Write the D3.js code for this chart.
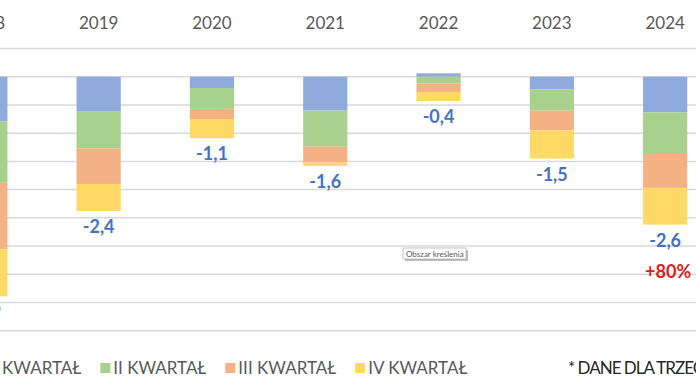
<!DOCTYPE html>
<html lang="pl">
<head>
  <meta charset="UTF-8">
  <title>Kwartały</title>
  <script src="https://d3js.org/d3.v7.min.js"></script>
  <style>
    body { margin: 0; background: #fff; }
    svg { display: block; font-family: Lato, "Open Sans", sans-serif; }
    .grid line { stroke: #d9d9d9; stroke-width: 1.5; }
    .year { fill: #595959; font-size: 17px; }
    .total { fill: #4472c4; font-size: 18px; font-weight: bold; }
    .legend text { fill: #595959; font-size: 17px; }
  </style>
</head>
<body>
  <svg width="696" height="385"></svg>

  <script>
    const years = ['2018', '2019', '2020', '2021', '2022', '2023', '2024'];
    const quarters = ['I KWARTAŁ', 'II KWARTAŁ', 'III KWARTAŁ', 'IV KWARTAŁ'];
    const q1 = [-0.79, -0.62, -0.20, -0.60, 0.06, -0.22, -0.63];
    const q2 = [-1.09, -0.65, -0.37, -0.64, -0.12, -0.38, -0.74];
    const q3 = [-1.18, -0.63, -0.18, -0.28, -0.15, -0.35, -0.60];
    const q4 = [-0.83, -0.48, -0.34, -0.06, -0.16, -0.50, -0.65];
    const totals = ['-3,9', '-2,4', '-1,1', '-1,6', '-0,4', '-1,5', '-2,6'];
    const gridTicks = [0.5, 0, -0.5, -1, -1.5, -2, -2.5, -3, -3.5, -4, -4.5];
    const note = '* DANE DLA TRZECH KWARTAŁÓW';
    const change2024 = '+80%';

    const colors = ['#8faadc', '#a9d18e', '#f4b183', '#ffd966'];
    const series = [q1, q2, q3, q4];

    const svg = d3.select('svg');

    // plot area is cropped: first band starts off screen on the left
    const step = 113.3;
    const x = d3.scaleBand()
      .domain(years)
      .range([-71.3, -71.3 + step * years.length])
      .paddingInner(0.61)
      .paddingOuter(0.305);

    const y = d3.scaleLinear()
      .domain([0.5, -4.5])
      .range([48.5, 330.7]);

    // gridlines
    svg.append('g')
      .attr('class', 'grid')
      .selectAll('line')
      .data(gridTicks)
      .join('line')
      .attr('x1', 0)
      .attr('x2', 696)
      .attr('y1', d => y(d))
      .attr('y2', d => y(d));

    // stack: positives go up from zero, negatives go down
    const rows = years.map((yr, i) => {
      let pos = 0, neg = 0;
      const segs = series.map((s, k) => {
        const v = s[i];
        let y0, y1;
        if (v >= 0) { y0 = pos; y1 = pos + v; pos = y1; }
        else { y0 = neg; y1 = neg + v; neg = y1; }
        return { year: yr, k, y0, y1 };
      });
      return { year: yr, segs, bottom: neg };
    });

    const bars = svg.append('g');
    rows.forEach(r => {
      bars.selectAll(null)
        .data(r.segs)
        .join('rect')
        .attr('x', d => x(d.year))
        .attr('width', x.bandwidth())
        .attr('y', d => Math.min(y(d.y0), y(d.y1)))
        .attr('height', d => Math.abs(y(d.y1) - y(d.y0)))
        .attr('fill', d => colors[d.k]);
    });

    // year labels on top
    svg.append('g')
      .selectAll('text')
      .data(years)
      .join('text')
      .attr('class', 'year')
      .attr('x', d => x(d) + x.bandwidth() / 2)
      .attr('y', 29)
      .attr('text-anchor', 'middle')
      .text(d => d);

    // totals below each bar
    svg.append('g')
      .selectAll('text')
      .data(rows)
      .join('text')
      .attr('class', 'total')
      .attr('x', d => x(d.year) + x.bandwidth() / 2)
      .attr('y', d => y(d.bottom) + 22)
      .attr('text-anchor', 'middle')
      .text((d, i) => totals[i]);

    const last = rows[rows.length - 1];
    svg.append('text')
      .attr('x', x(last.year) + x.bandwidth() / 2 + 3)
      .attr('y', y(last.bottom) + 53)
      .attr('text-anchor', 'middle')
      .attr('fill', '#e0201c')
      .style('font-size', '18px')
      .style('font-weight', 'bold')
      .text(change2024);

    // legend
    const legend = svg.append('g').attr('class', 'legend');
    let lx = -20;
    quarters.forEach((q, k) => {
      legend.append('rect')
        .attr('x', lx).attr('y', 363)
        .attr('width', 10).attr('height', 10)
        .attr('fill', colors[k]);
      const t = legend.append('text')
        .attr('x', lx + 13).attr('y', 374)
        .text(q);
      lx += 13 + t.node().getComputedTextLength() + 19;
    });

    svg.append('text')
      .attr('x', 568)
      .attr('y', 374)
      .attr('fill', '#262626')
      .style('font-size', '17px')
      .style('letter-spacing', '-1px')
      .text(note);

    // Excel "plot area" hover hint, as seen in the screenshot
    const tip = svg.append('g').attr('transform', 'translate(403,248)');
    tip.append('rect').attr('x', 2).attr('y', 2).attr('width', 63).attr('height', 11).attr('fill', '#bdbdbd');
    tip.append('rect').attr('width', 63).attr('height', 11).attr('fill', '#fff').attr('stroke', '#a0a0a0').attr('stroke-width', 0.6);
    tip.append('text').attr('x', 3).attr('y', 8.5).attr('fill', '#575757').style('font-size', '8px').text('Obszar kreślenia');
  </script>
</body>
</html>
